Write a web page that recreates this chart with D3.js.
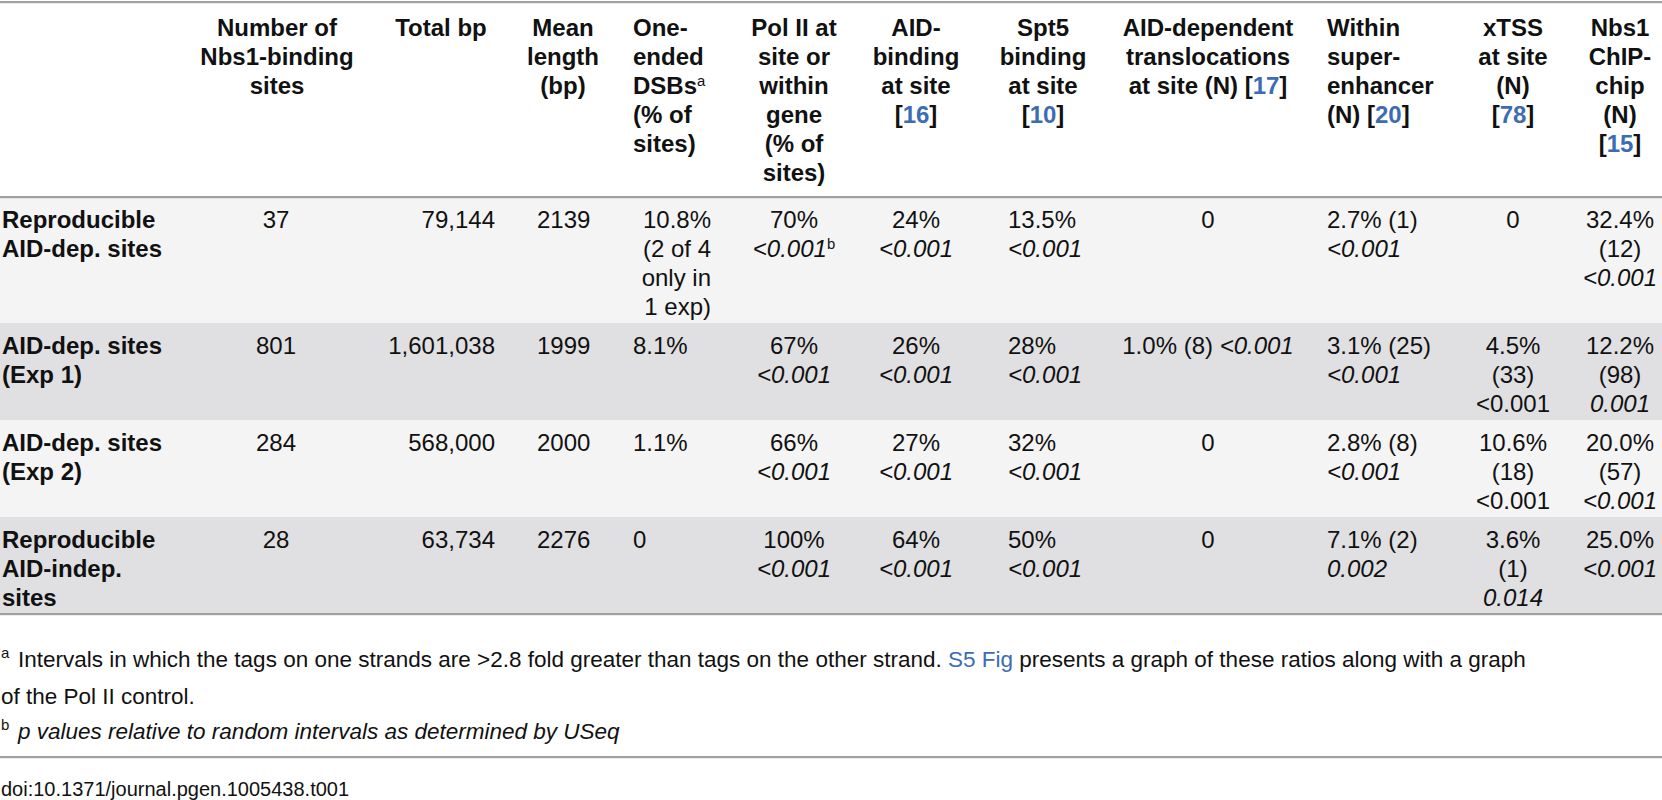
<!DOCTYPE html>
<html><head><meta charset="utf-8">
<script src="https://cdn.jsdelivr.net/npm/d3@7"></script>
<style>body{margin:0;background:#fff}svg{display:block}text{font-family:"Liberation Sans",Arial,Helvetica,sans-serif;fill:#111}</style>
</head><body><svg id="c" width="1662" height="800"></svg>
<script>
// ---- data ----
const columns = ["label","number","total","mean","oneEnded","polII","aidBinding","spt5","translocations","superEnh","xtss","nbs1chip"];
const headerLines = [
  [],
  ["Number of","Nbs1-binding","sites"],
  ["Total bp"],
  ["Mean","length","(bp)"],
  ["One-","ended","DSBs^a","(% of","sites)"],
  ["Pol II at","site or","within","gene","(% of","sites)"],
  ["AID-","binding","at site","[16]"],
  ["Spt5","binding","at site","[10]"],
  ["AID-dependent","translocations","at site (N) [17]"],
  ["Within","super-","enhancer","(N) [20]"],
  ["xTSS","at site","(N)","[78]"],
  ["Nbs1","ChIP-","chip","(N)","[15]"]
];
// "~" marks an italic line, "^" a superscript
const rowLabels = [["Reproducible","AID-dep. sites"],["AID-dep. sites","(Exp 1)"],["AID-dep. sites","(Exp 2)"],["Reproducible","AID-indep.","sites"]];
const numberSites = [["37"],["801"],["284"],["28"]];
const totalBp = [["79,144"],["1,601,038"],["568,000"],["63,734"]];
const meanLength = [["2139"],["1999"],["2000"],["2276"]];
const oneEnded = [["10.8%","(2 of 4","only in","1 exp)"],["8.1%"],["1.1%"],["0"]];
const polII = [["70%","~<0.001^b"],["67%","~<0.001"],["66%","~<0.001"],["100%","~<0.001"]];
const aidBinding = [["24%","~<0.001"],["26%","~<0.001"],["27%","~<0.001"],["64%","~<0.001"]];
const spt5 = [["13.5%","~<0.001"],["28%","~<0.001"],["32%","~<0.001"],["50%","~<0.001"]];
const translocations = [["0"],["1.0% (8) |<0.001"],["0"],["0"]];
const superEnh = [["2.7% (1)","~<0.001"],["3.1% (25)","~<0.001"],["2.8% (8)","~<0.001"],["7.1% (2)","~0.002"]];
const xtss = [["0"],["4.5%","(33)","<0.001"],["10.6%","(18)","<0.001"],["3.6%","(1)","~0.014"]];
const nbs1chip = [["32.4%","(12)","~<0.001"],["12.2%","(98)","~0.001"],["20.0%","(57)","~<0.001"],["25.0%","~<0.001"]];
const footnotes = [
  ["a","Intervals in which the tags on one strands are >2.8 fold greater than tags on the other strand. {S5 Fig} presents a graph of these ratios along with a graph"],
  ["","of the Pol II control."],
  ["b","~p values| relative to random intervals as determined by USeq"]
];
const doiText = "doi:10.1371/journal.pgen.1005438.t001";

// ---- layout ----
const cells = [rowLabels,numberSites,totalBp,meanLength,oneEnded,polII,aidBinding,spt5,translocations,superEnh,xtss,nbs1chip];
const colX = d3.scaleOrdinal().domain(columns).range([2,276,495,537,633,794,916,1008,1208,1327,1513,1620]);
const headX = d3.scaleOrdinal().domain(columns).range([2,277,441,563,633,794,916,1043,1208,1327,1513,1620]);
const valAnchor = d3.scaleOrdinal().domain(columns).range(["start","middle","end","start","start","middle","middle","start","middle","start","middle","middle"]);
const headAnchor = d3.scaleOrdinal().domain(columns).range(["start","middle","middle","middle","start","middle","middle","middle","middle","start","middle","middle"]);
const LH = 29, linkColor = "#3b6cb4", ruleColor = "#a0a0a0";
const svg = d3.select("#c");

const nLines = rowLabels.map((_,r)=>d3.max(cells,c=>c[r].length));
const rowH = nLines.map(n=>n*LH+10);
const headerBottom = 197;
const rowTops = [headerBottom];
rowH.forEach((h,i)=>rowTops.push(rowTops[i]+h));
const fills = ["#f4f4f4","#e0e0e2","#f4f4f4","#e0e0e2"];

svg.selectAll("rect.row").data(rowH).join("rect")
  .attr("x",0).attr("width",1662).attr("y",(d,i)=>rowTops[i]).attr("height",d=>d).attr("fill",(d,i)=>fills[i]);

function rule(y){svg.append("rect").attr("x",0).attr("width",1662).attr("y",y-1).attr("height",2.2).attr("fill",ruleColor);}
rule(2); rule(headerBottom); rule(rowTops[4]);

function writeLine(t, s){
  // handles [n] links, ^superscript, ~italic, |italic part after
  let italicAll = s.startsWith("~"); if(italicAll) s=s.slice(1);
  let parts = s.split("|");
  parts.forEach((p,pi)=>{
    const it = italicAll || pi>0;
    const re = /(\[\d+\]|\{[^}]+\}|\^[a-z])/g;
    p.split(re).filter(x=>x!=="").forEach(seg=>{
      if(/^\[\d+\]$/.test(seg)){
        t.append("tspan").text("[");
        t.append("tspan").attr("fill",linkColor).style("fill",linkColor).text(seg.slice(1,-1));
        t.append("tspan").text("]");
      } else if(seg.startsWith("{")){
        t.append("tspan").style("fill",linkColor).text(seg.slice(1,-1));
      } else if(seg.startsWith("^")){
        t.append("tspan").attr("baseline-shift","super").attr("font-size","0.62em").attr("font-weight","normal").attr("font-style","normal").text(seg.slice(1));
      } else {
        t.append("tspan").attr("font-style",it?"italic":null).text(seg);
      }
    });
  });
}

// header
columns.forEach((c,ci)=>{
  headerLines[ci].forEach((ln,li)=>{
    const t = svg.append("text").attr("x",headX(c)).attr("y",36+li*LH).attr("text-anchor",headAnchor(c))
      .attr("font-size",24).attr("font-weight","bold");
    writeLine(t,ln);
  });
});
// body
columns.forEach((c,ci)=>{
  cells[ci].forEach((lines,r)=>{
    let x = colX(c), anchor = valAnchor(c);
    if(c==="oneEnded" && lines.length>1){x=711;anchor="end";}
    lines.forEach((ln,li)=>{
      const t = svg.append("text").attr("x",x).attr("y",rowTops[r]+31+li*LH).attr("text-anchor",anchor)
        .attr("font-size",24).attr("font-weight",ci===0?"bold":"normal");
      writeLine(t,ln);
    });
  });
});
// footnotes
const fnY = [667,704,739];
footnotes.forEach((f,i)=>{
  if(f[0]) svg.append("text").attr("x",1).attr("y",fnY[i]-9).attr("font-size",15).text(f[0]);
  const t = svg.append("text").attr("x",f[0]?18:1).attr("y",fnY[i]).attr("font-size",22.5);
  writeLine(t,f[1]);
});
rule(757);
svg.append("text").attr("x",1).attr("y",796).attr("font-size",20).text(doiText);
</script></body></html>
